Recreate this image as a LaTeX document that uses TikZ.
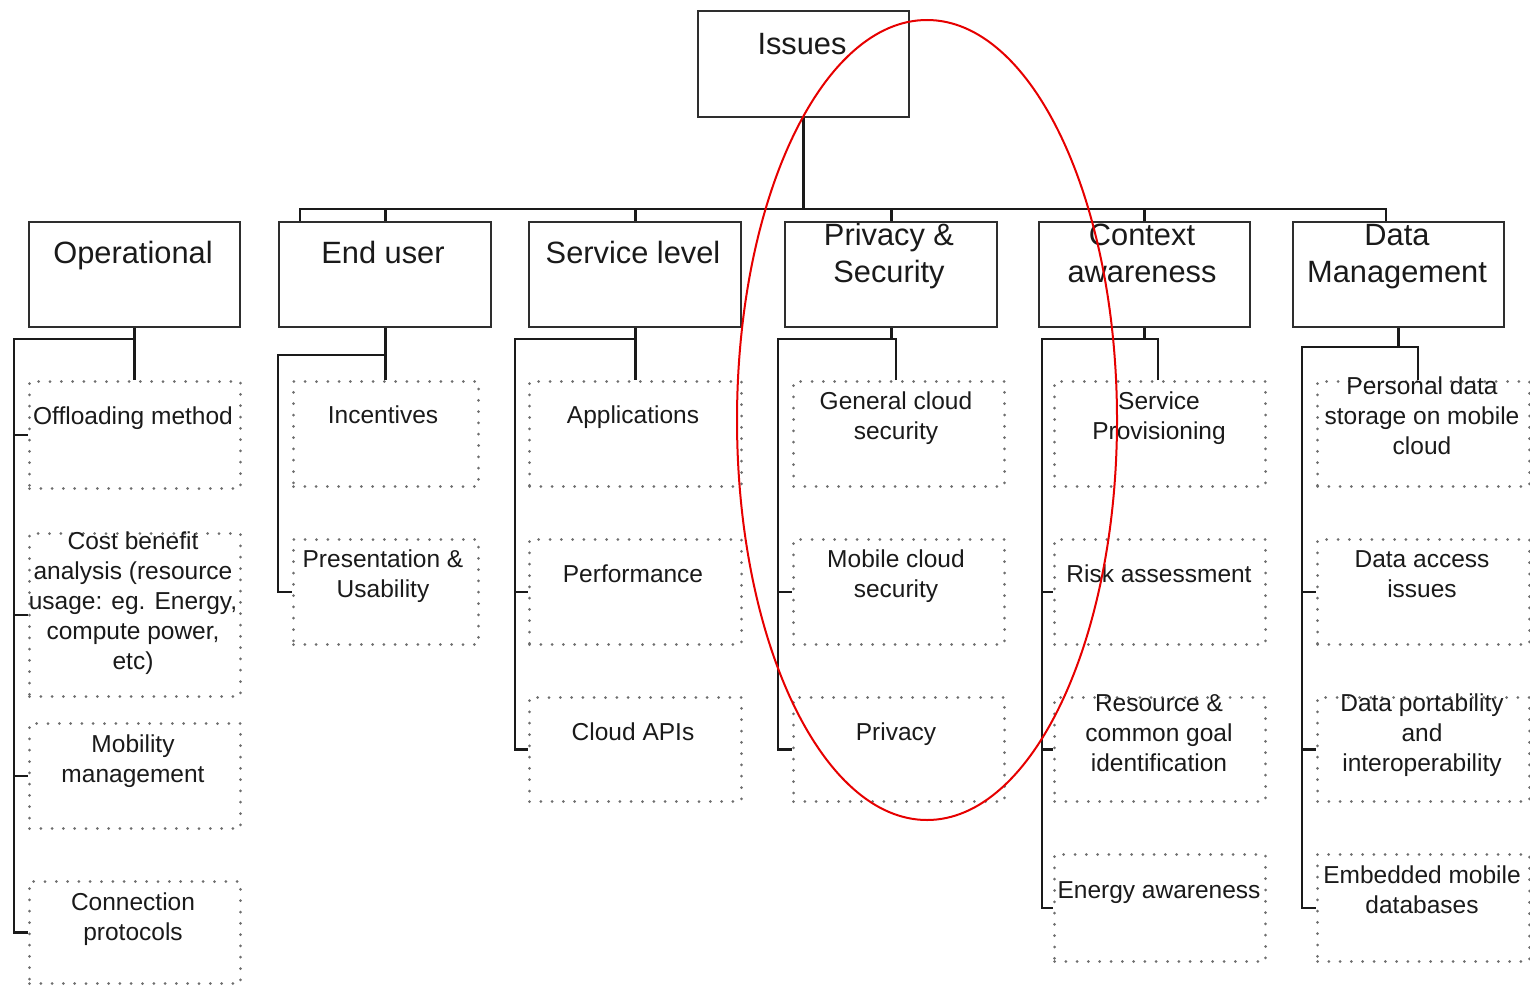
\documentclass[tikz,border=0pt]{standalone}
\usepackage{fontspec}
\setmainfont{Liberation Sans}
\newcommand{\mlines}[1]{\begin{tabular}[t]{@{}c@{}}#1\end{tabular}}
\definecolor{ink}{HTML}{1A1A1A}
\definecolor{frame}{HTML}{2E2E2E}
\definecolor{dotc}{HTML}{6E6E6E}
\definecolor{ring}{HTML}{E60000}
\begin{document}
\begin{tikzpicture}[x=1pt,y=-1pt,
  hbox/.style={draw=frame, line width=2.4pt, rectangle, inner sep=0pt, anchor=north west},
  subbox/.style={draw=dotc, line width=3pt, line cap=round, dash pattern=on 0pt off 11.3pt,
                 rectangle, inner sep=0pt, anchor=north west},
  htext/.style={anchor=base, inner sep=0pt, text=ink, font=\fontsize{30.8}{37}\selectfont},
  stext/.style={anchor=base, inner sep=0pt, text=ink, font=\fontsize{24.5}{30}\selectfont},
  conn/.style={draw=ink, line width=2.8pt, line join=miter},
]
\useasboundingbox (0,0) rectangle (1530,985);

% root and category boxes
\node[hbox, minimum width=211pt, minimum height=106pt] (issues) at (697,10) {};
\node[hbox, minimum width=211pt, minimum height=105pt] (op) at (28,221) {};
\node[hbox, minimum width=212pt, minimum height=105pt] (eu) at (278,221) {};
\node[hbox, minimum width=212pt, minimum height=105pt] (sl) at (528,221) {};
\node[hbox, minimum width=212pt, minimum height=105pt] (ps) at (784,221) {};
\node[hbox, minimum width=211pt, minimum height=105pt] (ca) at (1038,221) {};
\node[hbox, minimum width=211pt, minimum height=105pt] (dm) at (1292,221) {};

\node[htext] (issuesT) at (802,54) {Issues};
\node[htext] (opT) at (133,263) {Operational};
\node[htext] (euT) at (383,263) {End user};
\node[htext] (slT) at (633,263) {Service level};
\node[htext] (psT) at (889,245) {\mlines{Privacy \&\\Security}};
\node[htext] (caT) at (1142,245) {\mlines{Context\\awareness}};
\node[htext] (dmT) at (1397,245) {\mlines{Data\\Management}};

% Operational
\node[subbox, minimum width=211pt, minimum height=107pt] (op1) at (28,380) {};
\node[subbox, minimum width=211pt, minimum height=163pt] (op2) at (28,532) {};
\node[subbox, minimum width=211pt, minimum height=105pt] (op3) at (28,722) {};
\node[subbox, minimum width=211pt, minimum height=102pt] (op4) at (28,880) {};
\node[stext] (op1T) at (133,424) {Offloading method};
\node[stext] (op2T) at (133,549) {\mlines{Cost benefit\\analysis (resource\\usage: eg. Energy,\\compute power,\\etc)}};
\node[stext] (op3T) at (133,752) {\mlines{Mobility\\management}};
\node[stext] (op4T) at (133,910) {\mlines{Connection\\protocols}};

% End user
\node[subbox, minimum width=185pt, minimum height=105pt] (eu1) at (292,380) {};
\node[subbox, minimum width=185pt, minimum height=105pt] (eu2) at (292,538) {};
\node[stext] (eu1T) at (383,423) {Incentives};
\node[stext] (eu2T) at (383,567) {\mlines{Presentation \&\\Usability}};

% Service level
\node[subbox, minimum width=212pt, minimum height=105pt] (sl1) at (528,380) {};
\node[subbox, minimum width=212pt, minimum height=105pt] (sl2) at (528,538) {};
\node[subbox, minimum width=212pt, minimum height=104pt] (sl3) at (528,696) {};
\node[stext] (sl1T) at (633,423) {Applications};
\node[stext] (sl2T) at (633,582) {Performance};
\node[stext] (sl3T) at (633,740) {Cloud APIs};

% Privacy & Security
\node[subbox, minimum width=211pt, minimum height=105pt] (ps1) at (792,380) {};
\node[subbox, minimum width=211pt, minimum height=105pt] (ps2) at (792,538) {};
\node[subbox, minimum width=211pt, minimum height=104pt] (ps3) at (792,696) {};
\node[stext] (ps1T) at (896,409) {\mlines{General cloud\\security}};
\node[stext] (ps2T) at (896,567) {\mlines{Mobile cloud\\security}};
\node[stext] (ps3T) at (896,740) {Privacy};

% Context awareness
\node[subbox, minimum width=211pt, minimum height=105pt] (ca1) at (1053,380) {};
\node[subbox, minimum width=211pt, minimum height=105pt] (ca2) at (1053,538) {};
\node[subbox, minimum width=211pt, minimum height=104pt] (ca3) at (1053,696) {};
\node[subbox, minimum width=211pt, minimum height=107pt] (ca4) at (1053,853) {};
\node[stext] (ca1T) at (1159,409) {\mlines{Service\\Provisioning}};
\node[stext] (ca2T) at (1159,582) {Risk assessment};
\node[stext] (ca3T) at (1159,711) {\mlines{Resource \&\\common goal\\identification}};
\node[stext] (ca4T) at (1159,898) {Energy awareness};

% Data Management
\node[subbox, minimum width=212pt, minimum height=105pt] (dm1) at (1316,380) {};
\node[subbox, minimum width=212pt, minimum height=105pt] (dm2) at (1316,538) {};
\node[subbox, minimum width=212pt, minimum height=104pt] (dm3) at (1316,696) {};
\node[subbox, minimum width=212pt, minimum height=107pt] (dm4) at (1316,853) {};
\node[stext] (dm1T) at (1422,394) {\mlines{Personal data\\storage on mobile\\cloud}};
\node[stext] (dm2T) at (1422,567) {\mlines{Data access\\issues}};
\node[stext] (dm3T) at (1422,711) {\mlines{Data portability\\and\\interoperability}};
\node[stext] (dm4T) at (1422,883) {\mlines{Embedded mobile\\databases}};

% root bus
\coordinate (busL) at (300,209);
\coordinate (busR) at (1386,209);
\draw[conn] (issues.south) -- (issues.south |- busL);
\draw[conn] (busL |- eu.north) -- (busL) -- (busR) -- (busR |- dm.north);
\foreach \c in {eu,sl,ps,ca} \draw[conn] (\c.north |- busL) -- (\c.north);

% Operational branch
\coordinate (opbar) at (14,339);
\draw[conn] (op.south) -- (op.south |- op1.north);
\draw[conn] (op.south |- opbar) -- (opbar) |- (op4.west);
\foreach \k in {1,2,3} \draw[conn] (op\k.west -| opbar) -- (op\k.west);

% End user branch
\coordinate (eubar) at (278,355);
\draw[conn] (eu.south) -- (eu.south |- eu1.north);
\draw[conn] (eu.south |- eubar) -- (eubar) |- (eu2.west);

% Service level branch
\coordinate (slbar) at (515,339);
\draw[conn] (sl.south) -- (sl.south |- sl1.north);
\draw[conn] (sl.south |- slbar) -- (slbar) |- (sl3.west);
\draw[conn] (sl2.west -| slbar) -- (sl2.west);

% Privacy & Security branch
\coordinate (psbar) at (778,339);
\coordinate (psjoin) at (896,339);
\draw[conn] (ps.south) -- (ps.south |- psbar);
\draw[conn] (psjoin |- ps1.north) -- (psjoin) -- (psbar) |- (ps3.west);
\draw[conn] (ps2.west -| psbar) -- (ps2.west);

% Context awareness branch
\coordinate (cabar) at (1042,339);
\coordinate (cajoin) at (1158,339);
\draw[conn] (ca.south) -- (ca.south |- cabar);
\draw[conn] (cajoin |- ca1.north) -- (cajoin) -- (cabar) |- (ca4.west);
\foreach \k in {2,3} \draw[conn] (ca\k.west -| cabar) -- (ca\k.west);

% Data Management branch
\coordinate (dmbar) at (1302,347);
\coordinate (dmjoin) at (1418,347);
\draw[conn] (dm.south) -- (dm.south |- dmbar);
\draw[conn] (dmjoin |- dm1.north) -- (dmjoin) -- (dmbar) |- (dm4.west);
\foreach \k in {2,3} \draw[conn] (dm\k.west -| dmbar) -- (dm\k.west);

% highlight ring
\draw[ring, line width=2pt] (927,420) ellipse [x radius=190, y radius=400];
\end{tikzpicture}
\end{document}
